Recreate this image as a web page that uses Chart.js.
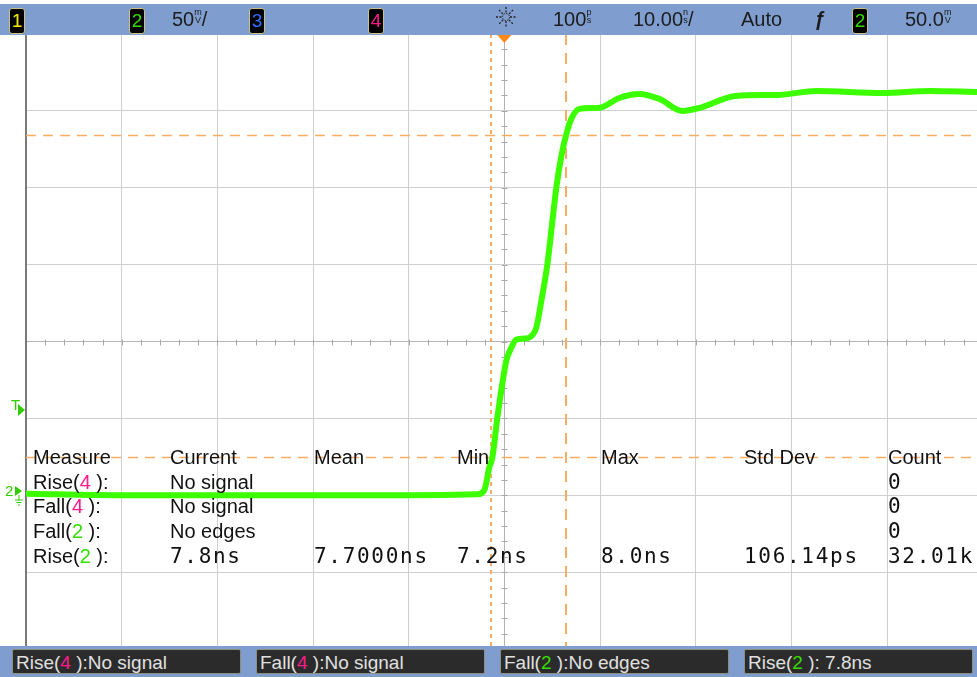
<!DOCTYPE html>
<html>
<head>
<meta charset="utf-8">
<script src="https://cdn.jsdelivr.net/npm/chart.js@4.4.1/dist/chart.umd.min.js"></script>
<style>
  body { margin: 0; background: #fff; }
  #wrap { position: relative; width: 977px; height: 677px; overflow: hidden; font-family: "Liberation Sans", Arial, sans-serif; }
  #scope { position: absolute; left: 0; top: 0; }
  .bar { position: absolute; left: 0; width: 977px; background: #7f9ecf; }
  .badge { position: absolute; top: 8px; width: 14px; height: 24px; background: #000; border: 1px solid #c9c08a; border-radius: 3px;
           font-size: 19px; line-height: 24px; text-align: center; }
  .tb { position: absolute; top: 6px; font-size: 20px; color: #1c1c1c; line-height: 26px; white-space: nowrap; }
  .unit { display: inline-block; font-size: 9px; line-height: 8px; vertical-align: 3px; text-align: center; }
  .tbl { position: absolute; top: 445px; font-size: 20px; line-height: 24.7px; color: #111; white-space: nowrap; }
  .mono { font-family: "DejaVu Sans Mono", monospace; font-size: 21px; letter-spacing: 1.7px; }
  .m { color: #ff1a8c; }
  .g { color: #33dd00; }
  .box { position: absolute; top: 649px; width: 229px; height: 25px; background: #2b2b2b; border: 1px solid #8d8d80; border-radius: 2px;
         color: #e0e0e0; font-size: 19px; line-height: 25px; padding-left: 3px; box-sizing: border-box; white-space: nowrap; }
  .lm { position: absolute; color: #33cc00; font-size: 15px; }
</style>
</head>
<body>
<div id="wrap">
  <canvas id="scope" width="977" height="677"></canvas>

  <div class="bar" style="top:4px;height:31px;"></div>
  <div class="bar" style="top:646px;height:31px;"></div>

  <div class="badge" style="left:9px;color:#f2e600;">1</div>
  <div class="badge" style="left:129px;color:#33dd00;">2</div>
  <div class="tb" style="left:172px;">50<span class="unit">m<br>V</span>/</div>
  <div class="badge" style="left:249px;color:#2f6fff;">3</div>
  <div class="badge" style="left:368px;color:#ff1a8c;">4</div>
  <div class="tb" style="left:494px;top:4px;">
    <svg width="24" height="26" viewBox="0 0 24 26">
      <g stroke="#222" stroke-width="1.3" stroke-dasharray="2 1.5">
        <line x1="12" y1="3" x2="12" y2="23"/><line x1="2" y1="13" x2="22" y2="13"/>
        <line x1="5" y1="6" x2="19" y2="20"/><line x1="19" y1="6" x2="5" y2="20"/>
      </g>
      <circle cx="12" cy="13" r="3.5" fill="#7f9ecf"/>
      <circle cx="12" cy="13" r="3.5" fill="none" stroke="#222" stroke-width="1" stroke-dasharray="1.5 1.2"/>
    </svg>
  </div>
  <div class="tb" style="left:553px;">100<span class="unit">p<br>s</span></div>
  <div class="tb" style="left:633px;">10.00<span class="unit">n<br>s</span>/</div>
  <div class="tb" style="left:741px;">Auto</div>
  <div class="tb" style="left:814px;font-style:italic;font-weight:bold;">ƒ</div>
  <div class="badge" style="left:852px;color:#33dd00;">2</div>
  <div class="tb" style="left:905px;">50.0<span class="unit">m<br>V</span></div>

  <div class="lm" style="left:11px;top:396px;">T</div>
  <svg style="position:absolute;left:18px;top:404px;" width="8" height="12"><polygon points="0,0 7,6 0,12" fill="#33cc00"/></svg>
  <div class="lm" style="left:5px;top:482px;">2</div>
  <svg style="position:absolute;left:15px;top:486px;" width="26" height="24">
    <polygon points="0,0 7,5 0,10" fill="#33cc00"/>
    <line x1="4" y1="9" x2="4" y2="14" stroke="#33cc00" stroke-width="1"/>
    <line x1="0" y1="14" x2="8" y2="14" stroke="#33cc00" stroke-width="1"/>
    <line x1="1.5" y1="16.5" x2="6.5" y2="16.5" stroke="#33cc00" stroke-width="1"/>
    <line x1="3" y1="19" x2="5" y2="19" stroke="#33cc00" stroke-width="1"/>
  </svg>

  <div class="tbl" style="left:33px;">Measure<br>Rise(<span class="m">4</span> ):<br>Fall(<span class="m">4</span> ):<br>Fall(<span class="g">2</span> ):<br>Rise(<span class="g">2</span> ):</div>
  <div class="tbl" style="left:170px;">Current<br>No signal<br>No signal<br>No edges<br><span class="mono">7.8ns</span></div>
  <div class="tbl" style="left:314px;">Mean<br><br><br><br><span class="mono">7.7000ns</span></div>
  <div class="tbl" style="left:457px;">Min<br><br><br><br><span class="mono">7.2ns</span></div>
  <div class="tbl" style="left:601px;">Max<br><br><br><br><span class="mono">8.0ns</span></div>
  <div class="tbl" style="left:744px;">Std Dev<br><br><br><br><span class="mono">106.14ps</span></div>
  <div class="tbl" style="left:888px;">Count<br><span class="mono">0</span><br><span class="mono">0</span><br><span class="mono">0</span><br><span class="mono">32.01k</span></div>

  <div class="box" style="left:12px;">Rise(<span class="m">4</span> ):No signal</div>
  <div class="box" style="left:256px;">Fall(<span class="m">4</span> ):No signal</div>
  <div class="box" style="left:500px;">Fall(<span class="g">2</span> ):No edges</div>
  <div class="box" style="left:744px;">Rise(<span class="g">2</span> ): 7.8ns</div>
</div>

<script>
// channel 2 trace, time in ns from screen centre, level in mV on screen
const traceTimes = [-50, -40, -30, -20, -10, -2.8, -2.1, -1.57, -1.25, -0.73, -0.21, 0.21, 0.73, 1.25, 2.09, 2.61,
  3.34, 3.87, 4.49, 5.43, 5.96, 6.48, 7.0, 7.84, 9.93, 12.0, 14.1, 16.2, 18.6, 20.4, 24.2, 28.7, 32.6, 39.5, 44.5, 49.4];
const traceValues = [-99, -100, -100, -100, -100, -99.4, -96.8, -81.8, -75.3, -49.4, -27.3, -12.3, -3.9, 1.3, 1.9, 2.6,
  9.1, 26.6, 50, 100, 120.8, 135, 144.8, 151.3, 152, 158.4, 161, 157.8, 150, 152, 159.7, 160.4, 163, 161.7, 163, 162.3];

// measurement markers (10% / 90% crossing)
const markerTimes = [-1.36, 6.48];
const markerLevels = [134.4, -75.3];
const triggerTime = 0;

const xTicks = [-50, -40, -30, -20, -10, 0, 10, 20, 30, 40];
const yTicks = [-200, -150, -100, -50, 0, 50, 100, 150, 200];

const scopeExtras = {
  id: 'scopeExtras',
  beforeDatasetsDraw(chart) {
    const { ctx, chartArea: a, scales: { x, y } } = chart;
    ctx.save();
    // minor ticks on centre axes
    ctx.strokeStyle = '#a8a8a8';
    ctx.lineWidth = 1;
    const y0 = Math.round(y.getPixelForValue(0)) + 0.5;
    const x0 = Math.round(x.getPixelForValue(0)) + 0.5;
    for (let t = -50; t <= 50; t += 2) {
      const px = Math.round(x.getPixelForValue(t)) + 0.5;
      ctx.beginPath(); ctx.moveTo(px, y0 - 3); ctx.lineTo(px, y0 + 3); ctx.stroke();
    }
    for (let v = -200; v <= 200; v += 10) {
      const py = Math.round(y.getPixelForValue(v)) + 0.5;
      ctx.beginPath(); ctx.moveTo(x0 - 3, py); ctx.lineTo(x0 + 3, py); ctx.stroke();
    }
    // left border
    ctx.strokeStyle = '#7a7a7a';
    ctx.lineWidth = 2;
    ctx.beginPath(); ctx.moveTo(a.left, a.top); ctx.lineTo(a.left, a.bottom); ctx.stroke();

    // orange markers
    ctx.strokeStyle = '#f9ad63';
    ctx.lineWidth = 1.5;
    ctx.setLineDash([10, 7]);
    markerLevels.forEach(v => {
      const py = Math.round(y.getPixelForValue(v)) + 0.5;
      ctx.beginPath(); ctx.moveTo(a.left, py); ctx.lineTo(a.right, py); ctx.stroke();
    });
    ctx.lineWidth = 2;
    markerTimes.forEach((t, i) => {
      ctx.setLineDash(i === 0 ? [4, 4] : [11, 8]);
      const px = Math.round(x.getPixelForValue(t));
      ctx.beginPath(); ctx.moveTo(px, a.top); ctx.lineTo(px, a.bottom); ctx.stroke();
    });
    ctx.restore();
  },
  afterDraw(chart) {
    const { ctx, chartArea: a, scales: { x } } = chart;
    const px = x.getPixelForValue(triggerTime);
    ctx.save();
    ctx.fillStyle = '#ff8a1a';
    ctx.beginPath();
    ctx.moveTo(px - 7, a.top + 1); ctx.lineTo(px + 7, a.top + 1); ctx.lineTo(px, a.top + 9);
    ctx.closePath(); ctx.fill();
    ctx.restore();
  }
};

new Chart(document.getElementById('scope').getContext('2d'), {
  type: 'line',
  data: {
    datasets: [{
      data: traceTimes.map((t, i) => ({ x: t, y: traceValues[i] })),
      borderColor: '#3cff00',
      borderWidth: 6,
      pointRadius: 0,
      cubicInterpolationMode: 'monotone',
      fill: false
    }]
  },
  options: {
    responsive: false,
    animation: false,
    layout: { padding: { left: 26, top: 34, right: 0, bottom: 28 } },
    plugins: { legend: { display: false }, tooltip: { enabled: false } },
    scales: {
      x: {
        type: 'linear', min: -50, max: 49.4,
        afterBuildTicks: s => { s.ticks = xTicks.map(v => ({ value: v })); },
        ticks: { display: false },
        grid: { color: c => c.tick && c.tick.value === 0 ? '#b4b4b4' : '#cfcfcf', drawTicks: false },
        border: { display: false }
      },
      y: {
        type: 'linear', min: -200, max: 200,
        afterBuildTicks: s => { s.ticks = yTicks.map(v => ({ value: v })); },
        ticks: { display: false },
        grid: { color: c => c.tick && c.tick.value === 0 ? '#b4b4b4' : '#cfcfcf', drawTicks: false },
        border: { display: false }
      }
    }
  },
  plugins: [scopeExtras]
});
</script>
</body>
</html>
